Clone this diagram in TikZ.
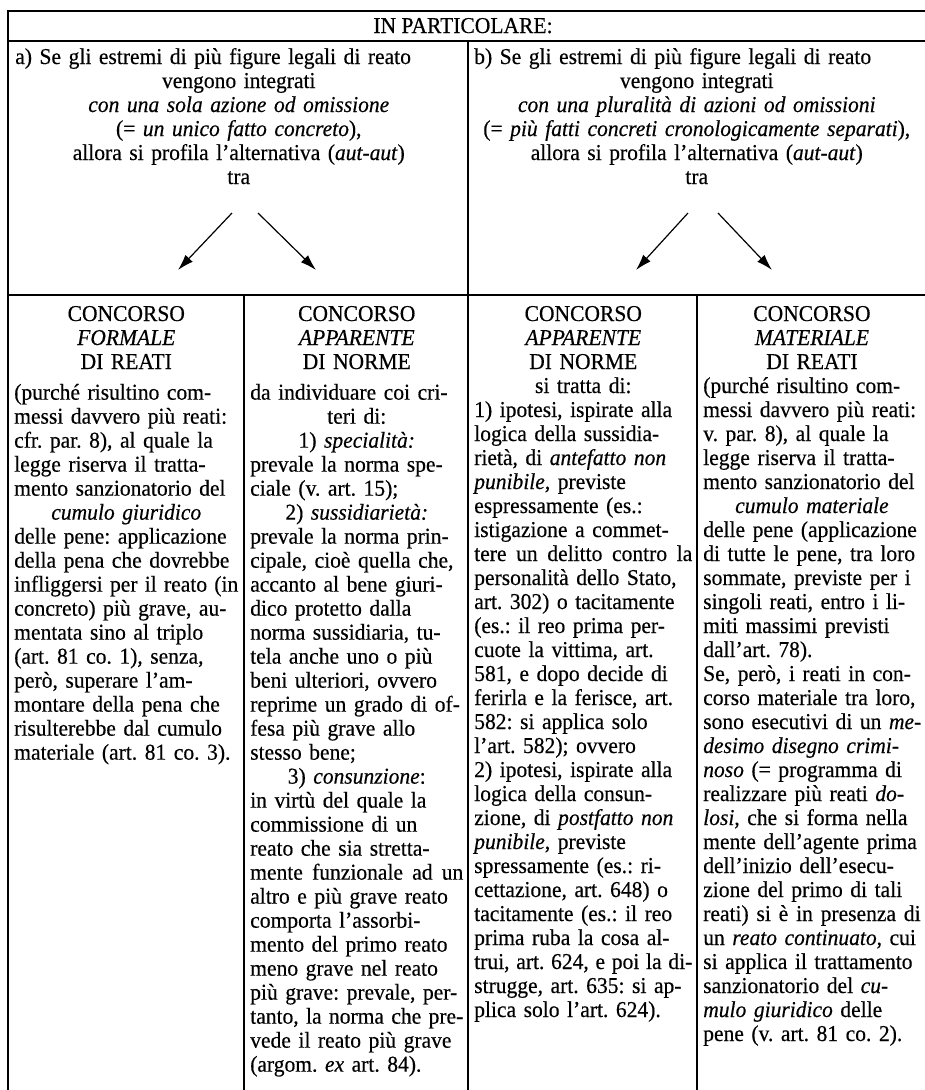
\documentclass[tikz,border=0pt]{standalone}
\usepackage{fontspec}
\setmainfont{Liberation Serif}[FakeStretch=0.95, FakeBold=0.4]
\usetikzlibrary{arrows.meta}
\frenchspacing
\newcommand\lnJ[1]{\makebox[\linewidth][s]{#1}\par}
\newcommand\lnT[1]{\makebox[\linewidth][s]{\spaceskip=0.17em plus 1em minus 0.03em\relax #1}\par}
\newcommand\lnC[1]{\makebox[\linewidth][c]{#1}\par}
\newcommand\lnL[1]{\makebox[\linewidth][l]{#1}\par}
\newcommand\hgap{\vspace{5pt}}
\begin{document}
\begin{tikzpicture}[x=0.75pt,y=-0.75pt,
  rule/.style={line width=1.2pt, line cap=rect},
  txt/.style={anchor=base west, inner sep=0pt, font=\fontsize{17pt}{18pt}\selectfont\frenchspacing},
  arr/.style={line width=0.9pt, -{Latex[length=12pt,width=7.5pt]}}]
\useasboundingbox (0,0) rectangle (925,1090);
% frame
\draw[rule] (8,11) -- (925,11);
\draw[rule] (8,41) -- (925,41);
\draw[rule] (8,11) -- (8,1090);
\draw[rule] (468,41) -- (468,1090);
\draw[rule] (8,295) -- (925,295);
\draw[rule] (244,295) -- (244,1090);
\draw[rule] (697,295) -- (697,1090);
% title
\node[anchor=base, inner sep=0pt, font=\fontsize{17pt}{18pt}\selectfont] (title) at (463,33) {IN PARTICOLARE:};
% upper texts
\node[txt, text width=335.25pt] (a) at (15,64) {%
\lnJ{a) Se gli estremi di più figure legali di reato}
\lnC{vengono integrati}
\lnC{\textit{con una sola azione od omissione}}
\lnC{(= \textit{un unico fatto concreto}),}
\lnC{allora si profila l'alternativa (\textit{aut-aut})}
\lnC{tra}};
\node[txt, text width=333.75pt] (b) at (474,64) {%
\lnJ{b) Se gli estremi di più figure legali di reato}
\lnC{vengono integrati}
\lnC{\textit{con una pluralità di azioni od omissioni}}
\lnC{(= \textit{più fatti concreti cronologicamente separati}),}
\lnC{allora si profila l'alternativa (\textit{aut-aut})}
\lnC{tra}};
% arrows
\coordinate (a1s) at (232,213); \coordinate (a1e) at (178,270);
\coordinate (a2s) at (258,213); \coordinate (a2e) at (316,270);
\coordinate (b1s) at (688,213); \coordinate (b1e) at (636,270);
\coordinate (b2s) at (718,213); \coordinate (b2e) at (772,270);
\draw[arr] (a1s) -- (a1e);
\draw[arr] (a2s) -- (a2e);
\draw[arr] (b1s) -- (b1e);
\draw[arr] (b2s) -- (b2e);
% column 1
\node[txt, text width=168pt] (c1) at (14,321) {%
\lnC{CONCORSO}
\lnC{\textit{FORMALE}}
\lnC{DI REATI}\hgap
\lnJ{(purché risultino com-}
\lnJ{messi davvero più reati:}
\lnJ{cfr. par. 8), al quale la}
\lnJ{legge riserva il tratta-}
\lnJ{mento sanzionatorio del}
\lnC{\textit{cumulo giuridico}}
\lnJ{delle pene: applicazione}
\lnJ{della pena che dovrebbe}
\lnT{infliggersi per il reato (in}
\lnJ{concreto) più grave, au-}
\lnJ{mentata sino al triplo}
\lnJ{(art. 81 co. 1), senza,}
\lnJ{però, superare l'am-}
\lnJ{montare della pena che}
\lnJ{risulterebbe dal cumulo}
\lnL{materiale (art. 81 co. 3).}};
% column 2
\node[txt, text width=159.75pt] (c2) at (250,321) {%
\lnC{CONCORSO}
\lnC{\textit{APPARENTE}}
\lnC{DI NORME}\hgap
\lnJ{da individuare coi cri-}
\lnC{teri di:}
\lnC{1) \textit{specialità:}}
\lnJ{prevale la norma spe-}
\lnL{ciale (v. art. 15);}
\lnC{2) \textit{sussidiarietà:}}
\lnJ{prevale la norma prin-}
\lnJ{cipale, cioè quella che,}
\lnJ{accanto al bene giuri-}
\lnJ{dico protetto dalla}
\lnJ{norma sussidiaria, tu-}
\lnJ{tela anche uno o più}
\lnJ{beni ulteriori, ovvero}
\lnJ{reprime un grado di of-}
\lnJ{fesa più grave allo}
\lnL{stesso bene;}
\lnC{3) \textit{consunzione}:}
\lnJ{in virtù del quale la}
\lnJ{commissione di un}
\lnJ{reato che sia stretta-}
\lnT{mente funzionale ad un}
\lnJ{altro e più grave reato}
\lnJ{comporta l'assorbi-}
\lnJ{mento del primo reato}
\lnJ{meno grave nel reato}
\lnJ{più grave: prevale, per-}
\lnT{tanto, la norma che pre-}
\lnJ{vede il reato più grave}
\lnL{(argom. \textit{ex} art. 84).}};
% column 3
\node[txt, text width=163.5pt] (c3) at (474,321) {%
\lnC{CONCORSO}
\lnC{\textit{APPARENTE}}
\lnC{DI NORME}
\lnC{si tratta di:}
\lnJ{1) ipotesi, ispirate alla}
\lnJ{logica della sussidia-}
\lnJ{rietà, di \textit{antefatto non}}
\lnL{\textit{punibile,} previste}
\lnL{espressamente (es.:}
\lnJ{istigazione a commet-}
\lnT{tere un delitto contro la}
\lnJ{personalità dello Stato,}
\lnJ{art. 302) o tacitamente}
\lnJ{(es.: il reo prima per-}
\lnJ{cuote la vittima, art.}
\lnJ{581, e dopo decide di}
\lnJ{ferirla e la ferisce, art.}
\lnJ{582: si applica solo}
\lnL{l'art. 582); ovvero}
\lnJ{2) ipotesi, ispirate alla}
\lnJ{logica della consun-}
\lnJ{zione, di \textit{postfatto non}}
\lnJ{\textit{punibile}, previste}
\lnJ{spressamente (es.: ri-}
\lnJ{cettazione, art. 648) o}
\lnJ{tacitamente (es.: il reo}
\lnJ{prima ruba la cosa al-}
\lnT{trui, art. 624, e poi la di-}
\lnJ{strugge, art. 635: si ap-}
\lnL{plica solo l'art. 624).}};
% column 4
\node[txt, text width=163pt] (c4) at (703,321) {%
\lnC{CONCORSO}
\lnC{\textit{MATERIALE}}
\lnC{DI REATI}
\lnJ{(purché risultino com-}
\lnJ{messi davvero più reati:}
\lnJ{v. par. 8), al quale la}
\lnJ{legge riserva il tratta-}
\lnJ{mento sanzionatorio del}
\lnC{\textit{cumulo materiale}}
\lnJ{delle pene (applicazione}
\lnJ{di tutte le pene, tra loro}
\lnJ{sommate, previste per i}
\lnJ{singoli reati, entro i li-}
\lnJ{miti massimi previsti}
\lnL{dall'art. 78).}
\lnJ{Se, però, i reati in con-}
\lnJ{corso materiale tra loro,}
\lnJ{sono esecutivi di un \textit{me-}}
\lnJ{\textit{desimo disegno crimi-}}
\lnJ{\textit{noso} (= programma di}
\lnJ{realizzare più reati \textit{do-}}
\lnJ{\textit{losi}, che si forma nella}
\lnJ{mente dell'agente prima}
\lnJ{dell'inizio dell'esecu-}
\lnJ{zione del primo di tali}
\lnT{reati) si è in presenza di}
\lnJ{un \textit{reato continuato}, cui}
\lnJ{si applica il trattamento}
\lnJ{sanzionatorio del \textit{cu-}}
\lnJ{\textit{mulo giuridico} delle}
\lnL{pene (v. art. 81 co. 2).}};
\end{tikzpicture}
\end{document}
